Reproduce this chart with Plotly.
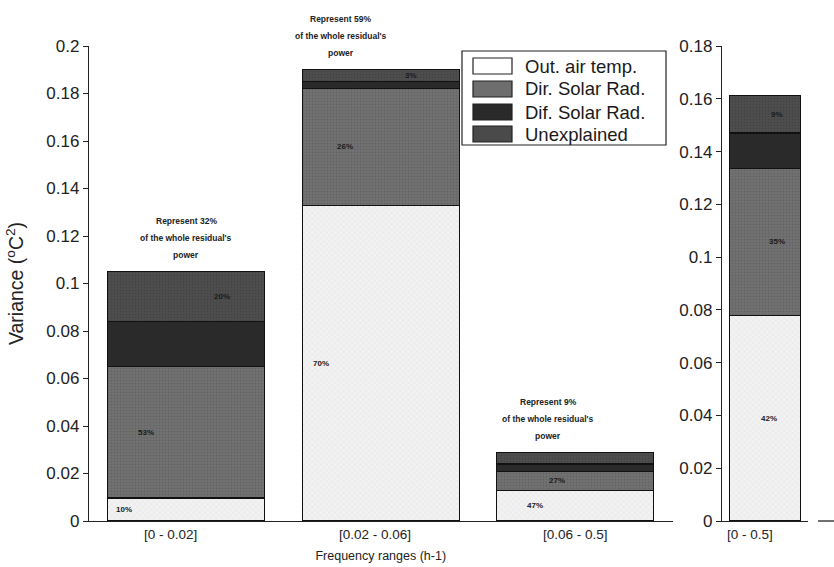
import plotly.graph_objects as go

W, H = 834, 567

# ---------------- data ----------------
categories = ["[0 - 0.02]", "[0.02 - 0.06]", "[0.06 - 0.5]"]
out_air = [0.0097, 0.133, 0.0127]
dir_solar = [0.0553, 0.049, 0.0083]
dif_solar = [0.019, 0.003, 0.003]
unexplained = [0.021, 0.005, 0.0047]

pct_out = ["10%", "70%", "47%"]
pct_dir = ["53%", "26%", "27%"]
pct_unx = ["20%", "3%", ""]
share = ["Represent 32%", "Represent 59%", "Represent 9%"]

all_cat = ["[0 - 0.5]"]
all_out = [0.078]
all_dir = [0.0557]
all_dif = [0.0133]
all_unx = [0.0143]
all_pct = ["42%", "35%", "9%"]

series_names = ["Out. air temp.", "Dir. Solar Rad.", "Dif. Solar Rad.", "Unexplained"]

# ---------------- styles ----------------
styles = [
    dict(color="#f2f2f2", pattern=dict(shape="x", fgcolor="#c4c4c4", size=4, solidity=0.15)),
    dict(color="#727272", pattern=dict(shape=".", fgcolor="#555555", size=3, solidity=0.3)),
    dict(color="#2a2a2a"),
    dict(color="#4e4e4e", pattern=dict(shape=".", fgcolor="#383838", size=3, solidity=0.3)),
]
legend_fill = ["#ffffff", "#6e6e6e", "#2a2a2a", "#4a4a4a"]
FONT = "Liberation Sans, Arial, Helvetica, sans-serif"


def px(x):
    return x / W


def py(y):
    return 1 - y / H


fig = go.Figure()

left_series = [out_air, dir_solar, dif_solar, unexplained]
right_series = [all_out, all_dir, all_dif, all_unx]
for name, vals, st in zip(series_names, left_series, styles):
    fig.add_trace(go.Bar(
        x=categories, y=vals, name=name, width=0.807,
        marker=dict(color=st["color"], pattern=st.get("pattern"),
                    line=dict(color="#111111", width=1.2)),
        showlegend=False, xaxis="x", yaxis="y", hoverinfo="skip"))
for name, vals, st in zip(series_names, right_series, styles):
    fig.add_trace(go.Bar(
        x=all_cat, y=vals, name=name, width=0.82,
        marker=dict(color=st["color"], pattern=st.get("pattern"),
                    line=dict(color="#111111", width=1.2)),
        showlegend=False, xaxis="x2", yaxis="y2", hoverinfo="skip"))

ydom = [py(521), py(46)]
axis_common = dict(showline=True, linecolor="#222222", linewidth=1.3,
                   ticks="outside", ticklen=5, tickcolor="#222222",
                   showgrid=False, zeroline=False, automargin=False,
                   tickfont=dict(family=FONT, size=17, color="#222222"))

fig.update_layout(
    width=W, height=H, barmode="stack",
    paper_bgcolor="white", plot_bgcolor="white",
    margin=dict(l=0, r=0, t=0, b=0),
    showlegend=False,
    xaxis=dict(domain=[px(89), px(672.5)], range=[-0.5, 2.5], type="category",
               showline=True, linecolor="#222222", linewidth=1.3, ticks="",
               showticklabels=False,
               showgrid=False, zeroline=False, automargin=False,
               title=dict(text="Frequency ranges (h-1)", standoff=30,
                          font=dict(family=FONT, size=12.5, color="#222222"))),
    yaxis=dict(domain=ydom, range=[0, 0.2], tickvals=[0, 0.02, 0.04, 0.06, 0.08, 0.1, 0.12, 0.14, 0.16, 0.18, 0.2],
               ticktext=["0", "0.02", "0.04", "0.06", "0.08", "0.1", "0.12", "0.14", "0.16", "0.18", "0.2"],
               title=dict(text="Variance (<sup>o</sup>C<sup>2</sup>)", standoff=17,
                          font=dict(family=FONT, size=19.5, color="#222222")),
               **axis_common),
    xaxis2=dict(domain=[px(722), px(808)], range=[-0.5, 0.5], type="category", anchor="y2",
                showline=True, linecolor="#222222", linewidth=1.3, ticks="",
                showticklabels=False,
                showgrid=False, zeroline=False, automargin=False),
    yaxis2=dict(domain=ydom, range=[0, 0.18], anchor="x2",
                tickvals=[0, 0.02, 0.04, 0.06, 0.08, 0.1, 0.12, 0.14, 0.16, 0.18],
                ticktext=["0", "0.02", "0.04", "0.06", "0.08", "0.1", "0.12", "0.14", "0.16", "0.18"],
                **axis_common),
)

# stray axis segment at right edge
fig.add_shape(type="line", xref="paper", yref="paper", x0=px(818), x1=px(834),
              y0=py(521), y1=py(521), line=dict(color="#222222", width=1.3))

ann = []
# category labels under the bars
cat_shift = [-16, -6, 0]
for cat, s in zip(categories, cat_shift):
    ann.append(dict(x=cat, y=0, xref="x", yref="y", text=cat, showarrow=False,
                    yanchor="top", yshift=-4, xshift=s,
                    font=dict(family=FONT, size=13.5, color="#222222")))
ann.append(dict(x=all_cat[0], y=0, xref="x2", yref="y2", text=all_cat[0], showarrow=False,
                yanchor="top", yshift=-4, xshift=-15,
                font=dict(family=FONT, size=13.5, color="#222222")))

# "Represent xx% of the whole residual's power" notes above bars
totals = [a + b + c + d for a, b, c, d in zip(out_air, dir_solar, dif_solar, unexplained)]
note_shift = [0, -40, -27]
for i, cat in enumerate(categories):
    lines = [share[i], "of the whole residual's", "power"]
    for k, t in enumerate(lines):
        ann.append(dict(x=cat, y=totals[i], xref="x", yref="y", text="<b>%s</b>" % t,
                        showarrow=False, yanchor="middle", xshift=note_shift[i],
                        yshift=51 - 17 * k,
                        font=dict(family=FONT, size=8.5, color="#222222")))

# percentage labels inside bars
pct_xshift = [-62, -60, -40]
for i, cat in enumerate(categories):
    mids = [out_air[i] / 2,
            out_air[i] + dir_solar[i] / 2,
            out_air[i] + dir_solar[i] + dif_solar[i] + unexplained[i] / 2]
    texts = [pct_out[i], pct_dir[i], pct_unx[i]]
    shifts = [pct_xshift[i], pct_xshift[i] + 22 if i != 1 else -36, 36 if i != 1 else 30]
    for m, t, s in zip(mids, texts, shifts):
        if t:
            ann.append(dict(x=cat, y=m, xref="x", yref="y", text="<b>%s</b>" % t,
                            showarrow=False, xshift=s,
                            font=dict(family=FONT, size=8, color="#1a1a1a")))
rmids = [all_out[0] / 2, all_out[0] + all_dir[0] / 2,
         all_out[0] + all_dir[0] + all_dif[0] + all_unx[0] / 2]
for m, t, s in zip(rmids, all_pct, [4, 12, 12]):
    ann.append(dict(x=all_cat[0], y=m, xref="x2", yref="y2", text="<b>%s</b>" % t,
                    showarrow=False, xshift=s,
                    font=dict(family=FONT, size=8, color="#1a1a1a")))

# custom legend
fig.add_shape(type="rect", xref="paper", yref="paper", x0=px(462), x1=px(666),
              y0=py(145), y1=py(51), line=dict(color="#222222", width=1.2),
              fillcolor="white", layer="above")
row_y = [66, 89, 112, 134]
for name, fill, ry in zip(series_names, legend_fill, row_y):
    fig.add_shape(type="rect", xref="paper", yref="paper", x0=px(473), x1=px(512),
                  y0=py(ry + 8), y1=py(ry - 8),
                  line=dict(color="#222222", width=1.2), fillcolor=fill, layer="above")
    ann.append(dict(x=px(523), y=py(ry), xref="paper", yref="paper", text=name,
                    showarrow=False, xanchor="left", yanchor="middle",
                    font=dict(family=FONT, size=18.5, color="#1a1a1a")))

fig.update_layout(annotations=ann)
fig.write_html("out.html", config={"displayModeBar": False},
               post_script="document.body.style.margin='0px';")
